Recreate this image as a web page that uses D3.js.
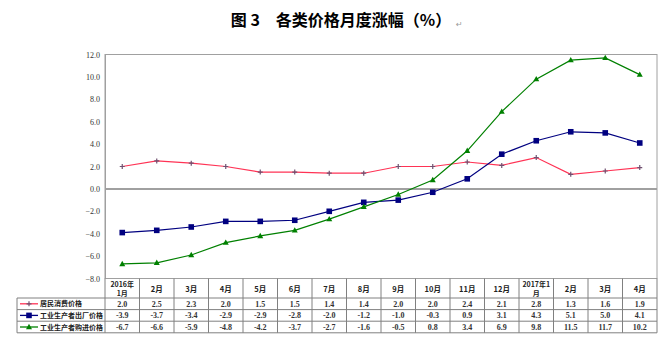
<!DOCTYPE html>
<html><head><meta charset="utf-8">
<script src="https://cdn.jsdelivr.net/npm/d3@7"></script>
<style>body{margin:0;background:#fff}svg{display:block}</style>
</head><body>
<svg id="c" width="670" height="356"></svg>
<script>
const months = [["2016年","1月"],["2月"],["3月"],["4月"],["5月"],["6月"],["7月"],["8月"],["9月"],["10月"],["11月"],["12月"],["2017年1","月"],["2月"],["3月"],["4月"]];
const seriesNames = ["居民消费价格","工业生产者出厂价格","工业生产者购进价格"];
const cpi = [2.0,2.5,2.3,2.0,1.5,1.5,1.4,1.4,2.0,2.0,2.4,2.1,2.8,1.3,1.6,1.9];
const ppiOut = [-3.9,-3.7,-3.4,-2.9,-2.9,-2.8,-2.0,-1.2,-1.0,-0.3,0.9,3.1,4.3,5.1,5.0,4.1];
const ppiIn = [-6.7,-6.6,-5.9,-4.8,-4.2,-3.7,-2.7,-1.6,-0.5,0.8,3.4,6.9,9.8,11.5,11.7,10.2];
const yTicks = [12,10,8,6,4,2,0,-2,-4,-6,-8];
const title = "图 3　各类价格月度涨幅（%）";

const svg = d3.select("#c");
const L = 105, R = 657, T = 54.5, B = 278.5;
const x = d3.scaleBand().domain(d3.range(months.length)).range([L, R]);
const y = d3.scaleLinear().domain([-8, 12]).range([B, T]);
const colors = ["#ff3355", "#000080", "#008000"];
const data = [cpi, ppiOut, ppiIn];

svg.append("text").attr("x", 341).attr("y", 26).attr("text-anchor", "middle")
  .attr("font-family", "Noto Sans CJK SC").attr("font-weight", "bold").attr("font-size", 16)
  .attr("fill", "#000").text(title);
svg.append("text").attr("x", 456).attr("y", 27).attr("font-family", "DejaVu Sans")
  .attr("font-size", 8).attr("fill", "#999").text("↵");

// plot border
svg.append("rect").attr("x", L).attr("y", T).attr("width", R - L).attr("height", B - T)
  .attr("fill", "none").attr("stroke", "#a0a0a0").attr("stroke-width", 1);
// zero line
svg.append("line").attr("x1", L).attr("x2", R).attr("y1", y(0)).attr("y2", y(0))
  .attr("stroke", "#a0a0a0").attr("stroke-width", 2);

// y axis
const yAxis = d3.axisLeft(y).tickValues(yTicks).tickFormat(d3.format(".1f")).tickSize(0).tickPadding(5);
const ga = svg.append("g").attr("transform", `translate(${L},0)`).call(yAxis);
ga.select(".domain").attr("stroke", "#a0a0a0");
ga.selectAll("text").attr("font-family", "Liberation Serif").attr("font-size", 8).attr("fill", "#333");

// lines
const line = d3.line().x((d, i) => x(i) + x.bandwidth() / 2).y(d => y(d));
data.forEach((arr, k) => {
  svg.append("path").datum(arr).attr("d", line).attr("fill", "none")
    .attr("stroke", colors[k]).attr("stroke-width", 1.2);
});
function marker(g, k, cx, cy) {
  if (k === 0) {
    g.append("path").attr("d", `M${cx-2.5},${cy}H${cx+2.5}M${cx},${cy-2.5}V${cy+2.5}`)
      .attr("stroke", "#705070").attr("stroke-width", 1.2);
  } else if (k === 1) {
    g.append("rect").attr("x", cx - 2.8).attr("y", cy - 2.8).attr("width", 5.6).attr("height", 5.6).attr("fill", "#000080");
  } else {
    g.append("path").attr("d", `M${cx},${cy-3.2}L${cx+3},${cy+2.2}L${cx-3},${cy+2.2}Z`).attr("fill", "#008000");
  }
}
data.forEach((arr, k) => {
  const g = svg.append("g");
  arr.forEach((v, i) => marker(g, k, x(i) + x.bandwidth() / 2, y(v)));
});

// table
const hTop = B, hBot = 298, rowH = 11.6, TL = 17;
const tb = hBot + rowH * 3;
const gridC = "#808080";
const tg = svg.append("g");
tg.append("line").attr("x1", TL).attr("x2", R).attr("y1", hBot).attr("y2", hBot).attr("stroke", gridC);
for (let r = 1; r <= 3; r++) {
  tg.append("line").attr("x1", TL).attr("x2", R).attr("y1", hBot + rowH * r).attr("y2", hBot + rowH * r).attr("stroke", gridC);
}
tg.append("line").attr("x1", TL).attr("x2", TL).attr("y1", hBot).attr("y2", tb).attr("stroke", gridC);
d3.range(months.length + 1).forEach(i => {
  const xx = i < months.length ? x(i) : R;
  tg.append("line").attr("x1", xx).attr("x2", xx).attr("y1", hTop).attr("y2", tb).attr("stroke", gridC);
});
months.forEach((m, i) => {
  const cx = x(i) + x.bandwidth() / 2;
  if (m.length === 2) {
    [m[0], m[1]].forEach((s, j) => {
      tg.append("text").attr("x", cx).attr("y", 287 + j * 9).attr("text-anchor", "middle")
        .attr("font-family", "Noto Sans CJK SC").attr("font-size", 7).attr("font-weight", "bold")
        .attr("fill", "#222").text(s);
    });
  } else {
    tg.append("text").attr("x", cx).attr("y", 291.5).attr("text-anchor", "middle")
      .attr("font-family", "Noto Sans CJK SC").attr("font-size", 7.5).attr("font-weight", "bold")
      .attr("fill", "#222").text(m[0]);
  }
});
data.forEach((arr, k) => {
  const cy = hBot + rowH * k + rowH / 2;
  tg.append("line").attr("x1", TL + 3).attr("x2", TL + 21).attr("y1", cy).attr("y2", cy)
    .attr("stroke", colors[k]).attr("stroke-width", 1.3);
  marker(tg, k, TL + 12, cy);
  tg.append("text").attr("x", TL + 23).attr("y", cy + 2.6).attr("font-family", "Noto Sans CJK SC")
    .attr("font-size", 7).attr("font-weight", "bold").attr("fill", "#222").text(seriesNames[k]);
  arr.forEach((v, i) => {
    tg.append("text").attr("x", x(i) + x.bandwidth() / 2).attr("y", cy + 3)
      .attr("text-anchor", "middle").attr("font-family", "Liberation Serif").attr("font-size", 8)
      .attr("font-weight", "bold").attr("fill", "#333").text(v.toFixed(1));
  });
});
</script>
</body></html>
